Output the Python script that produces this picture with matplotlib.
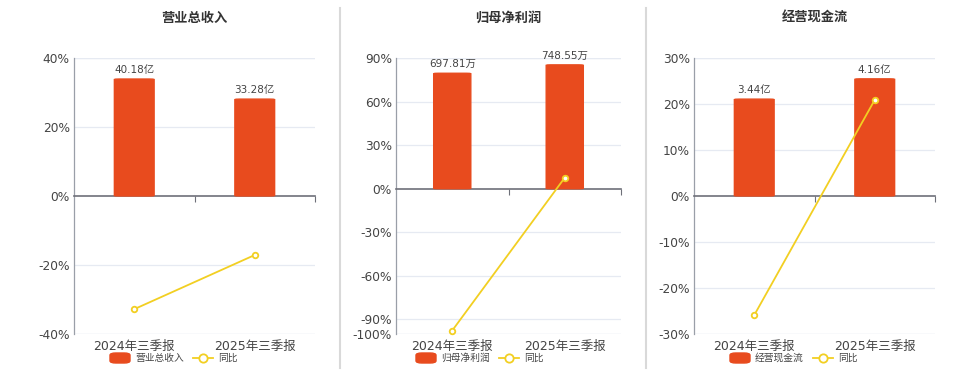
import matplotlib
matplotlib.use("Agg")
import matplotlib.pyplot as plt
from matplotlib.patches import FancyBboxPatch
from matplotlib.lines import Line2D

plt.rcParams['font.family'] = ['DejaVu Sans', 'Noto Sans CJK SC']

categories = ["2024年三季报", "2025年三季报"]

titles = ["营业总收入", "归母净利润", "经营现金流"]
bar_values = [[40.18, 33.28], [697.81, 748.55], [3.44, 4.16]]
bar_labels = [["40.18亿", "33.28亿"], ["697.81万", "748.55万"], ["3.44亿", "4.16亿"]]
yoy_values = [[-32.8, -17.1], [-97.6, 7.6], [-25.9, 20.9]]
y_ticks = [[-40, -20, 0, 20, 40],
           [-100, -90, -60, -30, 0, 30, 60, 90],
           [-30, -20, -10, 0, 10, 20, 30]]
y_limits = [(-40, 40), (-100, 90), (-30, 30)]
bar_tops = [47.4, 790.0, 4.9]  # hidden bar axis top

BAR_COLOR = "#E84B1E"
LINE_COLOR = "#F2CF22"
TEXT_COLOR = "#444444"

W, H = 960, 372
fig = plt.figure(figsize=(9.6, 3.72), dpi=100)

panels_px = [(74, 315), (396, 621), (694, 935)]
top_px, bot_px = 58, 334
legend_centers = [174, 480, 794]

for i in range(3):
    l, r = panels_px[i]
    ax = fig.add_axes([l / W, 1 - bot_px / H, (r - l) / W, (bot_px - top_px) / H])
    lo, hi = y_limits[i]
    ax.set_ylim(lo, hi)
    ax.set_xlim(-0.5, 1.5)
    ax.set_yticks(y_ticks[i])
    ax.set_yticklabels([f"{t}%" for t in y_ticks[i]])
    ax.tick_params(axis='y', length=0, labelsize=8.8, colors=TEXT_COLOR, pad=3)
    for t in y_ticks[i]:
        if t != 0:
            ax.axhline(t, color="#E6EAF2", lw=0.9, zorder=0)
    ax.axhline(hi, color="#E6EAF2", lw=0.9, zorder=0)
    ax.axhline(lo, color="#E6EAF2", lw=0.9, zorder=0)
    for s in ['top', 'right']:
        ax.spines[s].set_visible(False)
    ax.spines['left'].set_color("#9A9FA8")
    ax.spines['left'].set_linewidth(0.9)
    ax.spines['bottom'].set_position(('data', 0))
    ax.spines['bottom'].set_color("#6E7079")
    ax.spines['bottom'].set_linewidth(1.2)
    ax.set_xticks([0.5, 1.5])
    ax.tick_params(axis='x', length=4, color="#6E7079", labelbottom=False)

    sec = ax.secondary_xaxis('bottom')
    sec.set_xticks([0, 1])
    sec.set_xticklabels(categories)
    sec.tick_params(length=0, labelsize=9, colors=TEXT_COLOR, pad=4)
    sec.spines['bottom'].set_visible(False)

    # bars on hidden twin axis
    ax2 = ax.twinx()
    top = bar_tops[i]
    ax2.set_ylim(top * lo / hi, top)
    ax2.axis('off')
    bars = ax2.bar(range(2), bar_values[i], width=0.33, color=BAR_COLOR, zorder=2)
    for b in bars:
        b.set_visible(False)
        x0, w, h = b.get_x(), b.get_width(), b.get_height()
        rnd = FancyBboxPatch((x0, 0), w, h, boxstyle="round,pad=0,rounding_size=0.04",
                             mutation_aspect=top / 12.0, color=BAR_COLOR, zorder=2)
        ax2.add_patch(rnd)
        ax2.bar(x0 + w / 2, h * 0.5, width=w, color=BAR_COLOR, zorder=2)
    for b, lab in zip(bars, bar_labels[i]):
        ax2.annotate(lab, (b.get_x() + b.get_width() / 2, b.get_height()),
                     xytext=(0, 3), textcoords='offset points', ha='center', va='bottom',
                     fontsize=7.5, color=TEXT_COLOR)

    # line overlay above bars
    ax3 = ax.twinx()
    ax3.set_ylim(lo, hi)
    ax3.axis('off')
    ax3.plot(range(2), yoy_values[i], color=LINE_COLOR, lw=1.3, marker='o', ms=4,
             mfc='white', mec=LINE_COLOR, mew=1.3, zorder=3, clip_on=False)

    cx = (l + r) / 2
    fig.text(cx / W, 1 - 18 / H, titles[i], ha='center', va='center', fontsize=9.5,
             fontweight='bold', color="#333333", family=['Noto Sans CJK SC'])

    # legend
    lc = legend_centers[i]
    lx = lc - 64
    ly = 358
    fig.patches.append(FancyBboxPatch((lx / W, 1 - (ly + 5) / H), 20 / W, 10 / H,
                                      boxstyle="round,pad=0,rounding_size=0.006",
                                      transform=fig.transFigure, color=BAR_COLOR))
    fig.text((lx + 25) / W, 1 - ly / H, titles[i], ha='left', va='center', fontsize=7,
             color=TEXT_COLOR, family=['Noto Sans CJK SC'])
    fig.add_artist(Line2D([(lx + 83) / W, (lx + 103) / W], [1 - ly / H, 1 - ly / H],
                          color=LINE_COLOR, lw=1.3, transform=fig.transFigure))
    fig.add_artist(Line2D([(lx + 93) / W], [1 - ly / H], color=LINE_COLOR, marker='o',
                          ms=6, mfc='white', mec=LINE_COLOR, mew=1.3,
                          transform=fig.transFigure))
    fig.text((lx + 108) / W, 1 - ly / H, "同比", ha='left', va='center', fontsize=7,
             color=TEXT_COLOR, family=['Noto Sans CJK SC'])

for xs in [340, 646]:
    fig.add_artist(Line2D([xs / W, xs / W], [1 - 8 / H, 1 - 368 / H], color="#D9D9D9",
                          lw=1.5, transform=fig.transFigure))

fig.savefig("out.png", dpi=100, facecolor='white')
